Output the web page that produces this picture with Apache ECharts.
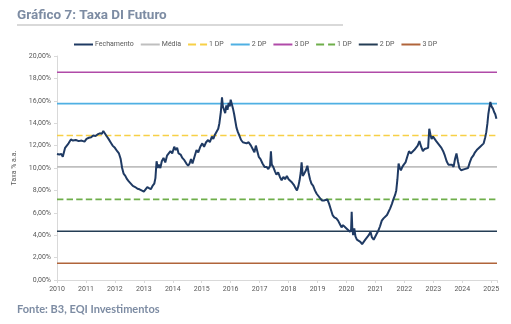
<!DOCTYPE html>
<html><head><meta charset="utf-8">
<script src="https://cdn.jsdelivr.net/npm/echarts@6/dist/echarts.min.js"></script>
<style>html,body{margin:0;padding:0;background:#fff}#c{width:511px;height:324px}</style>
</head><body><div id="c"></div>
<script>
// Closing DI future rate: dates (decimal years) and values (% a.a.)
const dates = [2010.00,2010.08,2010.15,2010.20,2010.24,2010.28,2010.33,2010.40,2010.48,2010.55,2010.65,2010.75,2010.85,2010.95,
2011.02,2011.10,2011.18,2011.25,2011.33,2011.40,2011.48,2011.55,2011.60,2011.64,2011.70,2011.78,2011.85,2011.92,
2012.00,2012.08,2012.14,2012.20,2012.25,2012.30,2012.36,2012.42,2012.48,2012.55,2012.62,2012.70,2012.78,2012.85,2012.92,
2013.00,2013.06,2013.12,2013.18,2013.24,2013.30,2013.36,2013.40,2013.44,2013.48,2013.52,2013.57,2013.62,2013.68,2013.74,2013.80,2013.86,2013.92,2013.98,
2014.05,2014.10,2014.15,2014.20,2014.27,2014.33,2014.40,2014.47,2014.53,2014.58,2014.63,2014.68,2014.75,2014.82,2014.88,2014.95,
2015.02,2015.08,2015.15,2015.22,2015.28,2015.35,2015.40,2015.46,2015.52,2015.57,2015.61,2015.66,2015.70,2015.73,2015.77,2015.81,2015.85,2015.89,2015.93,2015.97,
2016.00,2016.04,2016.08,2016.12,2016.16,2016.20,2016.25,2016.30,2016.36,2016.42,2016.48,2016.55,2016.62,2016.70,2016.76,2016.82,2016.87,2016.92,2016.97,
2017.03,2017.10,2017.17,2017.24,2017.30,2017.36,2017.39,2017.42,2017.47,2017.53,2017.58,2017.64,2017.70,2017.76,2017.82,2017.88,2017.94,
2018.00,2018.06,2018.12,2018.18,2018.24,2018.29,2018.34,2018.38,2018.42,2018.45,2018.49,2018.54,2018.60,2018.65,2018.69,2018.74,2018.79,2018.85,2018.91,2018.97,
2019.03,2019.09,2019.15,2019.22,2019.28,2019.34,2019.40,2019.46,2019.52,2019.58,2019.65,2019.71,2019.77,2019.83,2019.88,2019.94,
2020.00,2020.06,2020.12,2020.16,2020.18,2020.20,2020.23,2020.27,2020.31,2020.36,2020.42,2020.48,2020.54,2020.59,2020.65,2020.71,2020.77,2020.83,2020.88,2020.94,2020.99,
2021.04,2021.10,2021.16,2021.22,2021.28,2021.34,2021.40,2021.45,2021.51,2021.57,2021.62,2021.68,2021.72,2021.76,2021.80,2021.84,2021.88,2021.93,2021.98,
2022.04,2022.10,2022.16,2022.22,2022.28,2022.34,2022.40,2022.46,2022.52,2022.58,2022.64,2022.70,2022.76,2022.82,2022.86,2022.90,2022.94,2022.99,
2023.05,2023.10,2023.16,2023.22,2023.28,2023.34,2023.40,2023.46,2023.52,2023.58,2023.64,2023.70,2023.75,2023.80,2023.85,2023.90,2023.96,
2024.02,2024.08,2024.14,2024.20,2024.26,2024.32,2024.38,2024.44,2024.50,2024.56,2024.62,2024.68,2024.74,2024.79,2024.83,2024.87,2024.90,2024.93,2024.97,
2025.01,2025.06,2025.10,2025.14,2025.18];
const fechamento = [11.25,11.2,11.25,11.0,11.05,11.8,11.9,12.2,12.55,12.45,12.5,12.4,12.45,12.35,
12.6,12.7,12.75,12.9,12.85,13.0,13.1,13.05,13.3,13.25,12.9,12.6,12.3,12.0,
11.8,11.5,11.3,10.8,10.0,9.5,9.3,9.0,8.8,8.6,8.4,8.3,8.15,8.1,8.0,
7.9,8.0,8.3,8.35,8.1,8.4,8.6,9.1,10.6,10.0,10.3,10.0,10.6,10.9,10.5,11.1,11.3,11.5,11.3,
11.9,11.6,11.8,11.3,11.2,10.9,10.7,10.4,10.2,10.4,10.8,10.4,11.0,11.6,11.4,11.9,
12.2,11.9,12.3,12.5,12.3,12.8,12.6,13.0,13.1,13.5,14.0,15.0,16.3,15.5,15.2,14.9,15.6,15.2,15.8,15.5,
16.1,15.7,15.3,14.8,14.2,13.6,13.2,12.9,12.5,12.3,12.4,12.2,12.3,12.0,11.7,11.4,12.0,11.5,11.0,
10.8,10.4,10.1,10.1,9.9,10.2,11.5,10.3,10.1,9.7,9.4,9.6,9.2,8.9,9.2,9.0,9.3,
9.0,8.9,8.7,8.5,8.2,8.0,8.4,8.9,9.6,10.5,9.3,9.5,9.8,10.2,9.6,9.0,8.6,8.4,8.0,7.7,
7.5,7.3,7.1,7.1,7.0,7.2,6.8,6.3,5.8,5.6,5.5,5.3,5.0,4.7,4.9,4.8,
4.6,4.5,4.3,4.5,6.1,4.7,4.0,4.6,3.9,3.6,3.5,3.4,3.2,3.3,3.6,3.8,4.0,4.3,3.8,3.6,3.7,
4.1,4.4,4.8,5.3,5.5,5.6,5.8,5.9,6.4,6.8,7.2,7.6,8.0,9.0,10.4,10.0,9.8,10.1,10.3,
10.5,11.0,11.5,11.3,11.2,11.6,11.8,12.0,12.4,11.9,11.5,11.7,11.6,11.8,13.5,13.0,12.6,12.8,
12.7,12.4,12.4,12.0,11.8,11.5,11.1,10.6,10.3,10.2,10.3,10.1,10.8,11.3,10.6,10.0,9.8,
9.9,9.9,9.9,10.0,10.5,10.9,11.1,11.4,11.6,11.5,11.9,12.0,12.2,12.7,13.2,14.0,14.8,15.3,15.9,
15.5,15.3,15.0,14.8,14.4];
// Reference levels
const levelKeys   = ['media','p1','p2','p3','m1','m2','m3'];
const levelLabels = ['Média','1 DP','2 DP','3 DP','1 DP','2 DP','3 DP'];
const levelValues = [10.1, 12.9, 15.75, 18.55, 7.2, 4.35, 1.5];
const xRange = [2010, 2025.2];
const yTicks = [0,2,4,6,8,10,12,14,16,18,20];

const levelStyles = {
  media:{color:'#bfbfbf',type:'solid'},
  p1:{color:'#f7d046',type:'dashed'},
  p2:{color:'#4fb0e3',type:'solid'},
  p3:{color:'#b04aa8',type:'solid'},
  m1:{color:'#6eae4a',type:'dashed'},
  m2:{color:'#243d55',type:'solid'},
  m3:{color:'#b0643a',type:'solid'}
};
const nameMap = {fech:'Fechamento'};
levelKeys.forEach((k,i)=>nameMap[k]=levelLabels[i]);

const series = [{
  name:'fech', type:'line', symbol:'none', z:10,
  data: dates.map((d,i)=>[d,fechamento[i]]),
  lineStyle:{color:'#1f3a63',width:2}, itemStyle:{color:'#1f3a63'}
}];
levelKeys.forEach((k,i)=>{
  const s = levelStyles[k];
  series.push({name:k,type:'line',symbol:'none',silent:true,
    data:[[xRange[0],levelValues[i]],[xRange[1],levelValues[i]]],
    lineStyle:{color:s.color,width:1.6,type:s.type}, itemStyle:{color:s.color}});
});

const chart = echarts.init(document.getElementById('c'),null,{renderer:'canvas'});
chart.setOption({
  animation:false,
  backgroundColor:'#fff',
  graphic:[
    {type:'text',left:17,top:9,style:{text:'Gráfico 7: Taxa DI Futuro',font:'bold 13.5px "Liberation Sans Narrow", "Roboto", sans-serif',fill:'#7d8ca3'}},
    {type:'rect',shape:{x:17,y:24,width:326,height:2},style:{fill:'#d9d9d9'}},
    {type:'text',left:17,top:304,style:{text:'Fonte: B3, EQI Investimentos',font:'bold 11px Lato, sans-serif',fill:'#7d8ca3'}}
  ],
  legend:{
    top:36,left:68,itemWidth:19,itemHeight:8,itemGap:6,
    data:['fech'].concat(levelKeys),
    formatter:n=>nameMap[n],
    itemStyle:{opacity:0},
    lineStyle:{width:2},
    textStyle:{fontSize:7,color:'#595959',fontFamily:'Roboto, sans-serif',padding:[0,0,0,-3]}
  },
  grid:{left:57,right:14,top:56,bottom:44,containLabel:false},
  xAxis:{type:'value',min:xRange[0],max:xRange[1],interval:1,
    axisLine:{lineStyle:{color:'#d9d9d9'}},
    axisTick:{show:true,length:3,lineStyle:{color:'#d9d9d9'}},
    splitLine:{show:false},
    axisLabel:{fontSize:7,color:'#595959',margin:6,fontFamily:'Roboto, sans-serif',
      formatter:v=>Number.isInteger(v)?String(v):''}},
  yAxis:{type:'value',min:yTicks[0],max:yTicks[yTicks.length-1],interval:2,
    name:'Taxa % a.a.',nameLocation:'middle',nameGap:33,
    nameTextStyle:{fontSize:7,color:'#595959',fontFamily:'Roboto, sans-serif'},
    axisLine:{show:true,lineStyle:{color:'#d9d9d9'}},
    axisTick:{show:true,length:3,lineStyle:{color:'#d9d9d9'}},
    splitLine:{show:false},
    axisLabel:{fontSize:7,color:'#595959',margin:6,fontFamily:'Roboto, sans-serif',
      formatter:v=>v.toFixed(2).replace('.',',')+'%'}},
  series:series
});
</script></body></html>
